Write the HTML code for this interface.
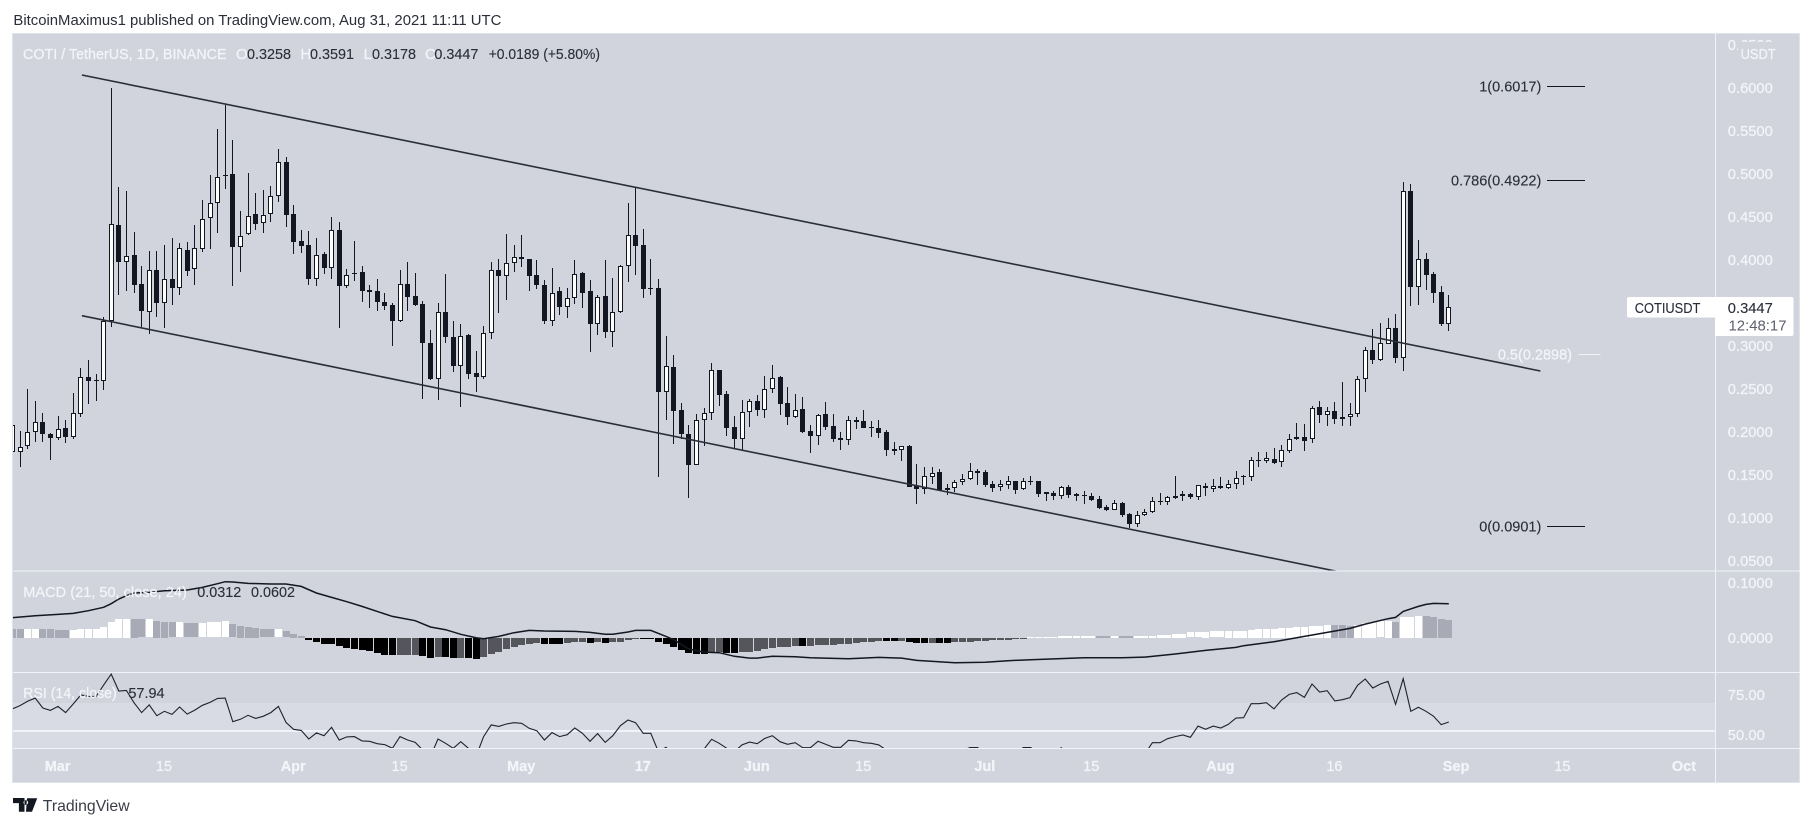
<!DOCTYPE html>
<html lang="en">
<head>
<meta charset="utf-8">
<title>COTI / TetherUS chart</title>
<style>
html,body{margin:0;padding:0;background:#fff;width:1813px;height:827px;overflow:hidden}
svg{display:block;font-family:"Liberation Sans",Arial,sans-serif}
.lt{fill:#f3f5fa;stroke:#f3f5fa;stroke-width:.25}
.dk{fill:#2a2e39;stroke:#2a2e39;stroke-width:.12}
</style>
</head>
<body>
<svg id="chart" xmlns="http://www.w3.org/2000/svg" width="1813" height="827" viewBox="0 0 1813 827">
  <defs>
    <clipPath id="clip-price"><rect x="13" y="33" width="1702" height="538"/></clipPath>
    <clipPath id="clip-macd"><rect x="13" y="571" width="1702" height="101"/></clipPath>
    <clipPath id="clip-rsi"><rect x="13" y="672" width="1702" height="76"/></clipPath>
  </defs>
  <text x="13.4" y="25" font-size="15" textLength="488" lengthAdjust="spacingAndGlyphs" fill="#2a2e39">BitcoinMaximus1 published on TradingView.com, Aug 31, 2021 11:11 UTC</text>
  <rect x="12.5" y="33.5" width="1787" height="749" fill="#d1d4dc" stroke="#e0e3eb" stroke-width="1"/>
  <rect x="13" y="703" width="1702" height="45" fill="#d8dbe3"/>
  <g id="price-pane" clip-path="url(#clip-price)"></g>
  <g id="trend-lines" clip-path="url(#clip-price)"></g>
  <g id="fib-levels"></g>
  <g id="macd-pane" clip-path="url(#clip-macd)"></g>
  <g id="rsi-pane" clip-path="url(#clip-rsi)"></g>
  <g fill="#f0f3fa">
    <rect x="13" y="570.5" width="1787" height="1"/>
    <rect x="13" y="672" width="1787" height="1"/>
    <rect x="13" y="748" width="1787" height="1"/>
    <rect x="1715" y="33" width="1" height="750"/>
  </g>
  <g id="price-axis" font-size="15" class="lt"></g>
  <rect x="1738" y="42" width="40" height="21" fill="#d1d4dc"/>
  <text x="1740.6" y="59" font-size="15" textLength="35" lengthAdjust="spacingAndGlyphs" class="lt">USDT</text>
  <g id="time-axis" font-size="14.5" class="lt" text-anchor="middle"></g>
  <g>
    <rect x="1627" y="297" width="90" height="20.5" rx="2" fill="#fff"/>
    <rect x="1715" y="297" width="78.5" height="39" rx="2" fill="#fff"/>
    <text x="1634.7" y="313" font-size="15" textLength="65.7" lengthAdjust="spacingAndGlyphs" class="dk">COTIUSDT</text>
    <text x="1727.8" y="313" font-size="15" textLength="45" lengthAdjust="spacingAndGlyphs" class="dk">0.3447</text>
    <text x="1728.5" y="330.5" font-size="15" textLength="58" lengthAdjust="spacingAndGlyphs" fill="#5d606b">12:48:17</text>
  </g>
  <g font-size="15">
    <text x="23" y="59" textLength="203.6" lengthAdjust="spacingAndGlyphs" class="lt">COTI / TetherUS, 1D, BINANCE</text>
    <text x="236" y="59" class="lt">O</text>
    <text x="247" y="59" textLength="44" lengthAdjust="spacingAndGlyphs" class="dk">0.3258</text>
    <text x="300.4" y="59" class="lt">H</text>
    <text x="310" y="59" textLength="44" lengthAdjust="spacingAndGlyphs" class="dk">0.3591</text>
    <text x="363.6" y="59" class="lt">L</text>
    <text x="372" y="59" textLength="44" lengthAdjust="spacingAndGlyphs" class="dk">0.3178</text>
    <text x="425" y="59" class="lt">C</text>
    <text x="434.4" y="59" textLength="44" lengthAdjust="spacingAndGlyphs" class="dk">0.3447</text>
    <text x="488.7" y="59" textLength="111.3" lengthAdjust="spacingAndGlyphs" class="dk">+0.0189 (+5.80%)</text>
  </g>
  <g font-size="15">
    <text x="23.3" y="597" textLength="163.5" lengthAdjust="spacingAndGlyphs" class="lt">MACD (21, 50, close, 24)</text>
    <text x="197.3" y="597" textLength="44" lengthAdjust="spacingAndGlyphs" class="dk">0.0312</text>
    <text x="251" y="597" textLength="44" lengthAdjust="spacingAndGlyphs" class="dk">0.0602</text>
  </g>
  <g font-size="15">
    <text x="23.3" y="698" textLength="93.4" lengthAdjust="spacingAndGlyphs" class="lt">RSI (14, close)</text>
    <text x="128.4" y="698" textLength="36.2" lengthAdjust="spacingAndGlyphs" class="dk">57.94</text>
  </g>
  <g>
    <path d="M13 798h11.5v13.7h-5.6v-8.6H13zM27 798.2h10.2l-5.2 13.5h-6zM25.8 800.2a2.3 2.3 0 1 0 .01 0z" fill="#131722"/>
    <text x="42.8" y="811" font-size="16" textLength="86.8" lengthAdjust="spacingAndGlyphs" fill="#3a3d46">TradingView</text>
  </g>
</svg>
<script>
// Day index is counted from Mar 1, 2021; the first bar is day -6.
const firstDay = -6;
const opens = [
.176,.176,.183,.1993,.2109,.1969,.1931,.2039,.1942,.221,
.2632,.2601,.2586,.3283,.4404,.3977,.4055,.3718,.3396,.388,
.35,.3772,.3667,.4109,.3888,.4121,.4481,.4656,.4981,.4993,
.4152,.4295,.4528,.4423,.4528,.4737,.5132,.4528,.4214,.4167,
.3772,.4063,.3908,.4342,.3698,.3842,.3853,.3648,.3632,.3504,
.3473,.3291,.3714,.3578,.3485,.3028,.2617,.3396,.3097,.276,
.3121,.2679,.264,.3144,.3877,.3811,.3958,.4036,.4004,.3818,
.3702,.3291,.3636,.3446,.3551,.3842,.3636,.3248,.3578,.3164,
.3392,.3923,.4288,.4167,.3668,.3668,.2466,.2749,.2249,.1974,
.1613,.2133,.2214,.2718,.2439,.2051,.1919,.2226,.2353,.2249,
.2493,.2633,.233,.2175,.2261,.2009,.1946,.2202,.2063,.1923,
.19,.2133,.2121,.2051,.2043,.1993,.1795,.1784,.1834,.1369,
.1338,.1477,.1532,.1342,.1342,.1419,.1446,.1543,.1528,.1392,
.1357,.1385,.1427,.1338,.1423,.1427,.1295,.1284,.1257,.1353,
.1272,.126,.1249,.1218,.1125,.1094,.1171,.1043,.093,.1036,
.1071,.1191,.1187,.1233,.1272,.1276,.1245,.1372,.1337,.1372,
.1349,.1395,.1481,.1469,.1667,.1663,.1686,.1651,.1771,.1911,
.1934,.1911,.2283,.2198,.2236,.2143,.2174,.2209,.2616,.295,
.2833,.3023,.3202,.286,.4795,.3687,.4008,.3834,.3621,.3258];
const highs = [
.21,.2008,.2497,.2357,.2214,.198,.2183,.2136,.245,.2741,
.2834,.2671,.333,.5993,.4849,.4803,.4318,.3927,.4101,.4101,
.4171,.4249,.4191,.4202,.4404,.4694,.4985,.5516,.5799,.5392,
.4567,.5003,.4772,.481,.4857,.5287,.5198,.4636,.4346,.4334,
.4249,.4094,.4493,.4435,.3888,.4214,.3927,.3706,.3772,.3609,
.3493,.388,.397,.3842,.352,.3183,.3493,.3834,.3291,.3252,
.3136,.2938,.3229,.3977,.4004,.4299,.4171,.4287,.4004,.3996,
.3764,.39,.3686,.367,.3997,.3861,.3764,.359,.3997,.3784,
.3939,.4656,.485,.4357,.4009,.3772,.3113,.2892,.233,.2078,
.2202,.228,.2795,.2718,.2474,.2183,.2369,.2381,.2427,.2648,
.2776,.2648,.252,.2439,.2404,.2078,.2202,.2342,.2202,.1993,
.2183,.2167,.2253,.2125,.2136,.202,.1877,.1838,.1842,.1621,
.159,.1586,.1563,.1392,.1439,.1505,.1633,.1563,.1555,.1427,
.1439,.1485,.1427,.1462,.1485,.1427,.1295,.1311,.1369,.1381,
.1288,.1311,.1284,.1253,.1144,.1206,.1179,.1051,.1074,.1098,
.1237,.1284,.1253,.1485,.1307,.1291,.1377,.1399,.1446,.1469,
.1438,.1539,.1491,.1705,.176,.176,.1806,.1845,.1969,.2097,
.2089,.2298,.2357,.2283,.2341,.2574,.2329,.2647,.2981,.3194,
.3264,.3318,.3364,.49,.488,.4229,.4074,.3853,.3694,.3591];
const lows = [
.176,.1593,.1803,.188,.188,.1671,.1907,.1873,.1919,.2175,
.2322,.2361,.2485,.321,.359,.3636,.3609,.3221,.3132,.3338,
.321,.3466,.359,.3803,.3706,.4094,.4121,.4307,.4826,.3698,
.3861,.428,.4338,.4315,.4442,.4667,.4384,.4067,.4082,.3706,
.3694,.3842,.3772,.3202,.3667,.3745,.3512,.3442,.3396,.3407,
.2989,.3279,.3396,.3454,.2384,.2601,.2361,.3035,.2698,.2291,
.2617,.2466,.2617,.3078,.3376,.3531,.3861,.3919,.3628,.3655,
.3248,.3221,.3357,.3326,.3485,.3442,.2931,.3124,.3094,.2978,
.3385,.3733,.3823,.3559,.359,.1466,.2136,.1857,.1912,.1233,
.1605,.1838,.2136,.2299,.1954,.1807,.1788,.2059,.2187,.2164,
.2454,.2195,.2078,.2164,.1981,.1749,.1838,.2012,.1873,.1788,
.1846,.2032,.2047,.1943,.1931,.1722,.1729,.1664,.1349,.1152,
.128,.1392,.1315,.1268,.1299,.1381,.1439,.1381,.1353,.1299,
.1315,.1334,.128,.1326,.1381,.1241,.1195,.1206,.1218,.1233,
.1198,.116,.1191,.1102,.1071,.1086,.1005,.0877,.0892,.1012,
.1055,.1148,.1148,.1222,.1187,.1222,.1206,.1244,.129,.1333,
.1329,.1333,.138,.1426,.1581,.1628,.1624,.1593,.1744,.1895,
.1779,.1872,.2105,.2058,.2089,.2066,.2058,.2167,.2461,.2791,
.2822,.3015,.2791,.2698,.3465,.3477,.3648,.3492,.3229,.3178];
const closes = [
.208,.1826,.1993,.2109,.1969,.1931,.2035,.1942,.2214,.2632,
.2593,.2586,.3283,.4411,.3977,.4047,.3706,.3407,.388,.35,
.3772,.3675,.4132,.3873,.4132,.447,.4656,.4966,.4969,.4152,
.428,.4512,.4415,.4524,.4745,.5132,.4524,.421,.4163,.3772,
.4059,.3908,.4342,.3698,.3826,.3838,.364,.3628,.3512,.3466,
.3291,.3714,.357,.3473,.3028,.2613,.3396,.3105,.2768,.3117,
.2675,.264,.3144,.3877,.3815,.3958,.4028,.4004,.3815,.3702,
.3291,.3617,.3446,.3551,.383,.3617,.3248,.357,.3164,.3396,
.3923,.4284,.4164,.3664,.3664,.2466,.276,.2245,.1977,.1613,
.2133,.2214,.2714,.2427,.2047,.1919,.2226,.2353,.2253,.2493,
.2629,.2326,.2175,.2257,.2001,.1954,.2198,.2059,.1919,.1908,
.2133,.2117,.2047,.204,.1989,.1791,.178,.183,.1357,.1338,
.1481,.1524,.1322,.1322,.1419,.1446,.1539,.1524,.1381,.135,
.1388,.1423,.1326,.1423,.1415,.128,.128,.1257,.1353,.1264,
.1257,.1257,.121,.1113,.109,.1167,.1032,.0927,.1036,.1071,
.1191,.1183,.1237,.1257,.1257,.1245,.1377,.1341,.1372,.1349,
.1395,.1465,.1477,.1667,.1664,.169,.164,.1783,.1911,.1934,
.1895,.2271,.2198,.2236,.2143,.2174,.2209,.2616,.2946,.2829,
.3027,.3202,.286,.4795,.3687,.4005,.3822,.3617,.3252,.3447];
const macdHist = [
.0164,.0163,.0164,.0165,.0164,.0163,.0145,.0144,.0146,.0158,
.0164,.0165,.02,.0291,.0339,.0345,.0344,.0333,.0334,.0303,
.0291,.0279,.028,.0261,.026,.0261,.0279,.028,.0297,.0242,
.0218,.0194,.0176,.0151,.015,.0151,.0115,.0073,.0036,-.003,
-.0067,-.0103,-.0104,-.0145,-.0176,-.02,-.0218,-.023,-.0273,-.0303,
-.0309,-.0308,-.0307,-.0306,-.0321,-.0358,-.0352,-.0353,-.0358,-.0357,
-.037,-.0382,-.0352,-.0297,-.0255,-.0206,-.0164,-.0121,-.0115,-.0091,
-.0109,-.011,-.0111,-.0091,-.0079,-.0073,-.0091,-.0079,-.0091,-.0079,
-.0067,-.0042,-.0005,-.0012,-.0013,-.0067,-.0103,-.0158,-.0212,-.0267,
-.0285,-.0286,-.0267,-.0255,-.0267,-.0268,-.0261,-.0248,-.023,-.0194,
-.0176,-.0158,-.0157,-.0139,-.014,-.0139,-.0121,-.012,-.0119,-.0103,
-.0102,-.0085,-.0067,-.0066,-.0055,-.0056,-.0057,-.005,-.0067,-.0085,
-.0086,-.0085,-.0086,-.0087,-.0079,-.0067,-.0066,-.0055,-.0054,-.0036,
-.0035,-.0034,-.0018,-.0017,.0006,.0007,.0008,.0009,.003,.0031,
.0032,.0033,.0034,.0033,.0032,.0033,.0032,.0031,.0032,.0033,
.0034,.0055,.0056,.0073,.0074,.0097,.0098,.0109,.0115,.0116,
.0128,.0129,.013,.0146,.0164,.0165,.0166,.0182,.0183,.02,
.0201,.0218,.0219,.0236,.0235,.0234,.0218,.0236,.0267,.0291,
.0297,.0309,.0291,.0382,.0383,.04,.0399,.0382,.0345,.0327];
const macdDays = [-6,-3,0,2,4,6,7,8,9,10,12,14,17,19,21,22,23,25,28,30,32,34,36,38,40,42,44,47,49,51,53,55,56,58,60,62,64,68,70,72,73,75,76,78,80,81,83,85,87,89,91,92,94,97,99,104,108,111,113,118,122,125,128,135,140,143,147,151,155,156,160,164,167,170,172,175,176,177,179,180,181,183];
const macdLine = [.0364,.04,.0424,.0442,.0491,.0552,.0618,.0703,.0764,.0812,.0824,.0855,.0867,.0915,.0982,.1018,.1012,.0988,.0976,.0976,.0933,.0812,.0733,.0655,.057,.0479,.0388,.0309,.0194,.0145,.0061,0,-.0018,.0024,.0091,.0133,.0121,.0115,.0097,.0061,.0061,.0103,.0133,.0133,.0024,-.0036,-.0206,-.0261,-.0273,-.0339,-.037,-.037,-.0339,-.0345,-.0364,-.0382,-.0358,-.037,-.0412,-.0455,-.0448,-.0418,-.04,-.0364,-.0364,-.0352,-.0297,-.023,-.0176,-.0145,-.0073,.0024,.0097,.017,.0248,.0345,.037,.0479,.057,.0606,.0624,.0618];
const rsiValues = [
66.1,68.2,70.9,72.9,66.7,65.2,67.7,63.8,69.2,74.8,
74,73.8,81,87.9,77.3,77.7,70,63.8,68.6,61.9,
64.6,62.7,67.3,62.9,65.4,68.4,70.2,72.7,72.9,58.1,
59.6,62.1,60.2,61.5,63.8,67.7,57.7,53.4,52.7,47.3,
51.1,49.4,54.6,46.7,48.6,48.8,46.1,45.9,44.4,43.8,
41.5,48.8,46.7,45.2,40.4,36.3,47.3,44.6,41.5,45.6,
41.5,36.3,48.8,56.1,55.2,56.7,57.5,57.1,54,52.5,
46.7,51.3,48.8,50,54.2,50.9,45.9,50.7,45.2,49.4,
55.6,59.2,57.5,50.9,50.9,39.4,42.1,37.3,34.2,32.1,
36.3,41,47.1,44.6,41.5,39.4,43.6,45.4,44.4,47.7,
49.4,45.6,44,45,41.9,41.9,45.9,44,42.1,42.1,
46.5,46.1,45,44.6,43.6,40.4,38,39,34,33,
36,37,35,36,38,40,42,42,38,37,
38,39,37,42,42,38,37,38,41.9,38,
37,38,37,35,34,37,33,32,38,38,
45,45,47.5,48.8,49.8,48.4,55.4,53.4,55.4,54.2,
56.5,60.4,60.6,69.4,69.4,70,66.1,71.7,75.2,76.3,
73.4,81.7,76.7,77.5,71.1,71.9,73.2,80.9,84.8,79.2,
81.7,83.4,69,85,64.6,67.1,64.6,61.5,56.3,57.94];
const rsiLevel = 52.5;
const priceTicks = [0.65,0.6,0.55,0.5,0.45,0.4,0.3,0.25,0.2,0.15,0.1,0.05];
const macdTicks = [0.1,0];
const rsiTicks = [75,50];
const timeLabels = ["Mar","15","Apr","15","May","17","Jun","15","Jul","15","Aug","16","Sep","15","Oct"];
const timeDays = [0,14,31,45,61,77,92,106,122,136,153,168,184,198,214];
const timeBold = [1,0,1,0,1,1,1,0,1,0,1,0,1,0,1];
const upperChannelDays = [3.14,195.05];
const upperChannelPrices = [.6148,.2706];
const lowerChannelDays = [3.14,170];
const lowerChannelPrices = [.3349,.0345];
const fibRatios = ["1","0.786","0.5","0"];
const fibPrices = [.6017,.4922,.2898,.0901];

const SVGNS = 'http://www.w3.org/2000/svg';
const xDay = d => 58 + 7.6 * d;
const yPrice = p => 87.7 + (0.6 - p) * 860;
const yMacd = v => 637.7 - v * 550;
const yRsi = v => 694.7 + (75 - v) * 1.6;
function mk(tag, attrs, parent) {
  const el = document.createElementNS(SVGNS, tag);
  for (const k in attrs) el.setAttribute(k, attrs[k]);
  parent.appendChild(el);
  return el;
}
const DARK = '#131722';
const pricePane = document.getElementById('price-pane');
opens.forEach((o, n) => {
  const c = closes[n];
  const col = Math.floor(xDay(firstDay + n));
  const g = mk('g', {'shape-rendering': 'crispEdges'}, pricePane);
  
  
  const wick = mk('rect', {x: col, y: Math.round(yPrice(highs[n])), width: 1, height: Math.max(1, Math.round(yPrice(lows[n]) - yPrice(highs[n]))), fill: DARK}, g);
  
  
  const top = Math.round(yPrice(Math.max(o, c)));
  const h = Math.max(1, Math.round(yPrice(Math.min(o, c))) - top);
  const body = mk('rect', {x: col - 2, y: top, width: 5, height: h, fill: DARK}, g);
  
  
  if (c > o && h > 2) {
    const inner = mk('rect', {x: col - 1, y: top + 1, width: 3, height: h - 2, fill: '#fff'}, g);
    
    
  }
});
const trendGroup = document.getElementById('trend-lines');
const upperLine = mk('line', {x1: xDay(upperChannelDays[0]), y1: yPrice(upperChannelPrices[0]), x2: xDay(upperChannelDays[1]), y2: yPrice(upperChannelPrices[1]), stroke: '#2a2e39', 'stroke-width': 1.6}, trendGroup);


const lowerLine = mk('line', {x1: xDay(lowerChannelDays[0]), y1: yPrice(lowerChannelPrices[0]), x2: xDay(lowerChannelDays[1]), y2: yPrice(lowerChannelPrices[1]), stroke: '#2a2e39', 'stroke-width': 1.6}, trendGroup);


const fibGroup = document.getElementById('fib-levels');
fibRatios.forEach((r, n) => {
  const y = yPrice(fibPrices[n]);
  const light = r === '0.5';
  const right = light ? 1572 : 1541.3;
  const lx1 = light ? 1578.4 : 1547;
  const lx2 = light ? 1600.3 : 1585;
  const t = mk('text', {x: right, y: y + 5.2, 'font-size': 14.5, 'text-anchor': 'end', class: light ? 'lt' : 'dk'}, fibGroup);
  t.textContent = r + '(' + fibPrices[n].toFixed(4) + ')';
  
  
  const l = mk('rect', {x: lx1, y: Math.round(y - 0.5), width: lx2 - lx1, height: 1, fill: light ? '#eff1f6' : '#131722', 'shape-rendering': 'crispEdges'}, fibGroup);
  
  
});
const macdPane = document.getElementById('macd-pane');
macdHist.forEach((v, n) => {
  const prev = n ? macdHist[n - 1] : v + 1;
  const fill = v >= 0 ? (v >= prev ? '#ffffff' : '#a8abb5') : (v < prev ? '#000000' : '#55565c');
  const y0 = yMacd(0);
  const y1 = yMacd(v);
  const b = mk('rect', {x: Math.round(xDay(firstDay + n) - 3.5), y: Math.round(Math.min(y0, y1)), width: 7, height: Math.max(1, Math.round(Math.abs(y1 - y0))), fill: fill, 'shape-rendering': 'crispEdges'}, macdPane);
  
  
});
const macdPath = mk('polyline', {points: macdDays.map((d, n) => xDay(d).toFixed(1) + ',' + yMacd(macdLine[n]).toFixed(1)).join(' '), fill: 'none', stroke: '#131722', 'stroke-width': 1.5}, macdPane);


const rsiPane = document.getElementById('rsi-pane');
const rsiRule = mk('rect', {x: 13, y: Math.round(yRsi(rsiLevel)) - 1, width: 1702, height: 2, fill: '#f0f3fa', 'shape-rendering': 'crispEdges'}, rsiPane);


const rsiPath = mk('polyline', {points: rsiValues.map((v, n) => xDay(firstDay + n).toFixed(1) + ',' + yRsi(v).toFixed(1)).join(' '), fill: 'none', stroke: '#1e222d', 'stroke-width': 1.1}, rsiPane);


const priceAxis = document.getElementById('price-axis');
priceTicks.forEach(p => {
  const t = mk('text', {x: 1727.8, y: yPrice(p) + 5.2, textLength: 45, lengthAdjust: 'spacingAndGlyphs'}, priceAxis);
  t.textContent = p.toFixed(4);
  
  
});
macdTicks.forEach(v => {
  const t = mk('text', {x: 1727.8, y: yMacd(v) + 5.2, textLength: 45, lengthAdjust: 'spacingAndGlyphs'}, priceAxis);
  t.textContent = v.toFixed(4);
  
  
});
rsiTicks.forEach(v => {
  const t = mk('text', {x: 1727.8, y: yRsi(v) + 5.2, textLength: 37, lengthAdjust: 'spacingAndGlyphs'}, priceAxis);
  t.textContent = v.toFixed(2);
  
  
});
const timeAxis = document.getElementById('time-axis');
timeLabels.forEach((s, n) => {
  const t = mk('text', {x: 57.6 + 7.6 * timeDays[n], y: 771, 'font-weight': timeBold[n] ? 'bold' : 'normal'}, timeAxis);
  t.textContent = s;
  
  
});
</script>
</body>
</html>
